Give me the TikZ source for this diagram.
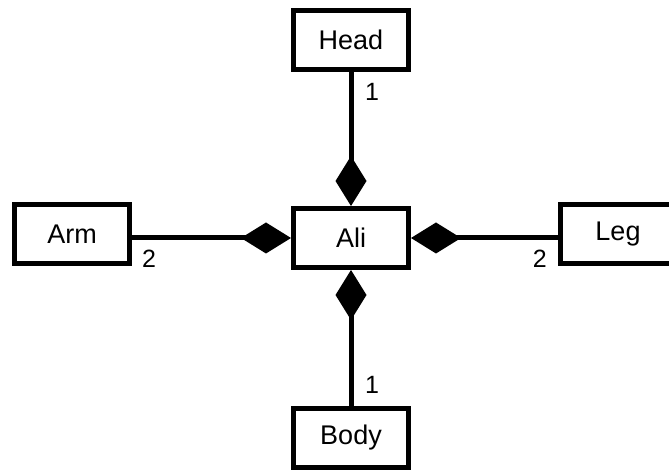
\documentclass[tikz,border=0pt]{standalone}
\usepackage{fontspec}
\setmainfont{Liberation Sans}
\usetikzlibrary{arrows.meta, positioning, calc}

\begin{document}
\begin{tikzpicture}[x=1pt, y=1pt,
  cls/.style={draw, line width=5pt, minimum width=115pt, minimum height=59pt, inner sep=0pt, font=\fontsize{27}{32}\selectfont},
  composed/.style={line width=5pt, -{Diamond[length=50pt, width=31pt, line width=0pt]}},
  mult/.style={inner sep=0pt, font=\fontsize{25}{30}\selectfont}]
  \useasboundingbox (0,0) rectangle (669,470);
  \node[cls] (ali) at (351,232) {Ali};
  \node[cls] (head) at (351,430) {Head}; \node[cls] (body) at (351,32) {Body};
  \node[cls] (arm) at (72,236) {Arm}; \node[cls] (leg) at (618,236) {Leg};
  \draw[composed] (head) -- (ali); \draw[composed] (body) -- (ali);
  \draw[composed] (arm.east |- ali.west) -- (ali.west);
  \draw[composed] (leg.west |- ali.east) -- (ali.east);
  \node[mult, anchor=base west] (head1) at ([xshift=14pt, yshift=-29pt]head.south) {1};
  \node[mult, anchor=base west] (body1) at ([xshift=14pt, yshift=12pt]body.north) {1};
  \node[mult, anchor=base west] (arm2) at ([xshift=10pt, yshift=-2pt]arm.south east) {2};
  \node[mult, anchor=base east] (leg2) at ([xshift=-11pt, yshift=-2pt]leg.south west) {2};
\end{tikzpicture}
\end{document}
